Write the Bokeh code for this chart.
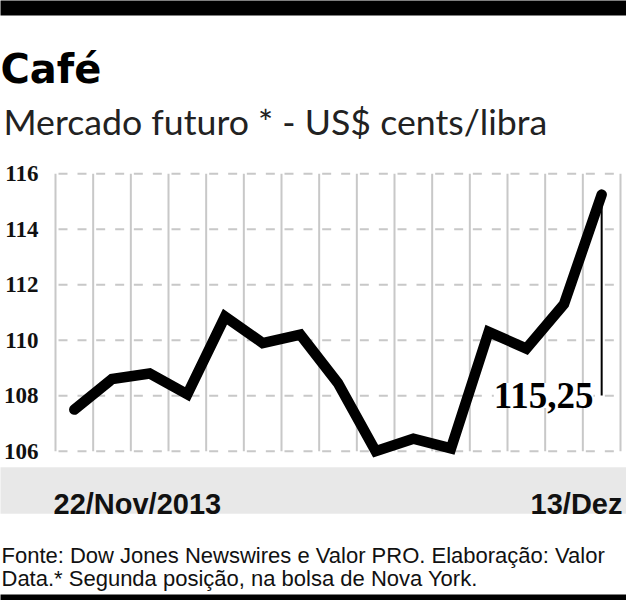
from bokeh.plotting import figure
from bokeh.models import Label, BoxAnnotation, Range1d, FixedTicker
from bokeh.embed import file_html
from bokeh.resources import INLINE

# ---- data ----
dates = ["22/Nov", "25/Nov", "26/Nov", "27/Nov", "29/Nov", "02/Dez", "03/Dez",
         "04/Dez", "05/Dez", "06/Dez", "09/Dez", "10/Dez", "11/Dez", "12/Dez", "13/Dez"]
prices = [107.5, 108.6, 108.8, 108.05, 110.85, 109.9, 110.2,
          108.45, 106.0, 106.45, 106.1, 110.3, 109.7, 111.3, 115.25]
y_ticks = [106, 108, 110, 112, 114, 116]
first_label = "22/Nov/2013"
last_label = "13/Dez"
last_value_label = "115,25"
title_text = "Café"
subtitle_text = "Mercado futuro * - US$ cents/libra"
footer_1 = "Fonte: Dow Jones Newswires e Valor PRO. Elaboração: Valor"
footer_2 = "Data.* Segunda posição, na bolsa de Nova York."

# ---- layout ----
W, H = 626, 600
SX, SY = W / 626, H / 600
n = len(prices)
REF_LEFT, REF_RIGHT = 55.0, 620.0          # plot area edges
REF_TOP, REF_BOTTOM = 173.3, 450.7         # y of top / bottom tick
PXU = (REF_RIGHT - REF_LEFT) / n * SX      # px per x unit
PYU = (REF_BOTTOM - REF_TOP) / (y_ticks[-1] - y_ticks[0]) * SY
x0 = -0.5 - REF_LEFT * SX / PXU
x1 = x0 + W / PXU
y1 = y_ticks[-1] + REF_TOP * SY / PYU
y0 = y1 - H / PYU


def dx(rx):
    return x0 + rx * SX / PXU


def dy(ry):
    return y1 - ry * SY / PYU


p = figure(width=W, height=H, x_range=Range1d(x0, x1), y_range=Range1d(y0, y1),
           output_backend="svg", toolbar_location=None, x_axis_location=None,
           y_axis_location="left", min_border=0,
           outline_line_color=None, background_fill_color="white", border_fill_color="white")
p.grid.visible = False

ax = p.yaxis[0]
ax.fixed_location = -0.5
ax.ticker = FixedTicker(ticks=y_ticks)
ax.axis_line_color = None
ax.major_tick_line_color = None
ax.minor_tick_line_color = None
ax.major_label_standoff = 11
ax.major_label_text_font = "Liberation Serif"
ax.major_label_text_font_style = "bold"
ax.major_label_text_font_size = "23px"
ax.major_label_text_color = "#111111"

# background bands
for top, bottom, color in [(-5, 15, "#000000"), (466.7, 513.3, "#e8e8e8"), (594, 610, "#000000")]:
    p.add_layout(BoxAnnotation(left=dx(-10), right=dx(640), top=dy(top), bottom=dy(bottom),
                               fill_color=color, fill_alpha=1, line_color=None, level="underlay"))

# grid
xs = [i - 0.5 for i in range(n + 1)]
p.segment(x0=xs, y0=[y_ticks[0]] * len(xs), x1=xs, y1=[y_ticks[-1]] * len(xs),
          line_color="#c8c8c8", line_width=2)
hx = [i - 0.5 for i in range(n) for _ in y_ticks]
hy = [t for _ in range(n) for t in y_ticks]
p.segment(x0=hx, y0=hy, x1=[a + 1 for a in hx], y1=hy, line_color="#c8c8c8",
          line_width=2, line_dash="9 10", line_dash_offset=16)

# annotation line
p.segment(x0=[n - 1], y0=[prices[-1]], x1=[n - 1], y1=[dy(395)], line_color="black", line_width=2)

# data line
p.line(list(range(n)), prices, line_color="black", line_width=10.5, line_join="miter", line_cap="round")

p.add_layout(Label(x=dx(593), y=dy(395), text=last_value_label, text_align="right",
                   text_baseline="alphabetic", text_font="Liberation Serif", text_font_style="bold",
                   text_font_size="37px", text_color="black", background_fill_color="white"))

# texts
p.add_layout(Label(x=dx(0), y=dy(68), text=title_text, text_font="DejaVu Sans", text_font_style="bold",
                   text_font_size="40px", text_color="black", text_baseline="alphabetic"))
p.add_layout(Label(x=dx(3), y=dy(120.5), text=subtitle_text, text_font="Lato",
                   text_font_size="35.7px", text_color="#222222", text_baseline="alphabetic"))
p.add_layout(Label(x=dx(53), y=dy(503), text=first_label, text_font="Liberation Sans",
                   text_font_style="bold", text_font_size="29px", text_color="#111111",
                   text_baseline="alphabetic"))
p.add_layout(Label(x=dx(622), y=dy(503), text=last_label, text_font="Liberation Sans",
                   text_font_style="bold", text_font_size="29px", text_color="#111111",
                   text_baseline="alphabetic", text_align="right"))
p.add_layout(Label(x=dx(1), y=dy(555), text=footer_1, text_font="Liberation Sans",
                   text_font_size="22px", text_color="#111111", text_baseline="alphabetic"))
p.add_layout(Label(x=dx(1), y=dy(578), text=footer_2, text_font="Liberation Sans",
                   text_font_size="22px", text_color="#111111", text_baseline="alphabetic"))

open("out.html", "w").write(file_html(p, INLINE))
